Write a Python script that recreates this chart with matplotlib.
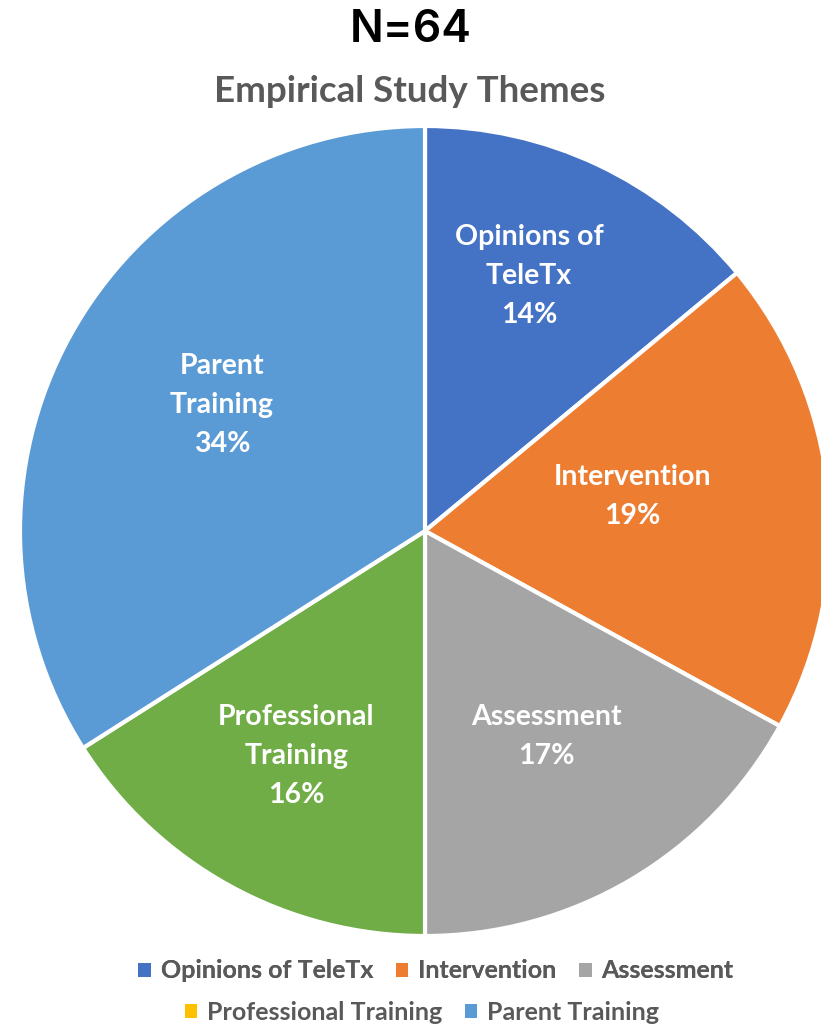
import numpy as np
import matplotlib
matplotlib.use("Agg")
import matplotlib.pyplot as plt
from matplotlib.patches import Patch

themes = ["Opinions of TeleTx", "Intervention", "Assessment",
          "Professional Training", "Parent Training"]
slice_labels = ["Opinions of\nTeleTx", "Intervention", "Assessment",
                "Professional\nTraining", "Parent\nTraining"]
shares = [14, 19, 17, 16, 34]
slice_colors = ["#4472C4", "#ED7D31", "#A5A5A5", "#70AD47", "#5B9BD5"]
legend_colors = ["#4472C4", "#ED7D31", "#A5A5A5", "#FFC000", "#5B9BD5"]
label_radius = [0.68, 0.52, 0.59, 0.64, 0.59]
label_shift = [3, 4, 0, -1, -3]  # degrees, nudges labels off the bisector

W, H = 821, 1028
fig = plt.figure(figsize=(W / 100, H / 100), dpi=100)
ax = fig.add_axes([0, 0, 1, 1])

# pixel geometry of the pie
cx, cy, rpx = 425, 531, 405
wedges, _ = ax.pie(shares, colors=slice_colors, startangle=90, counterclock=False,
                   radius=1.0, wedgeprops=dict(edgecolor="white", linewidth=3))
ax.set_aspect("auto")
ax.set_xlim(-cx / rpx, (W - cx) / rpx)
ax.set_ylim(-(H - cy) / rpx, cy / rpx)
ax.axis("off")

for w, lab, pct, r, d in zip(wedges, slice_labels, shares, label_radius, label_shift):
    mid = np.deg2rad((w.theta1 + w.theta2) / 2 + d)
    ax.text(r * np.cos(mid), r * np.sin(mid), f"{lab}\n{pct}%",
            ha="center", va="center", color="white", fontsize=20.5,
            fontweight="bold", family="Lato", linespacing=1.6)

fig.text(0.5, 1 - 30 / H, "N=64", ha="center", va="center",
         fontsize=32, family="Inter", fontweight="semibold", color="black")
fig.text(410 / W, 1 - 92 / H, "Empirical Study Themes", ha="center", va="center",
         fontsize=26.5, fontweight="bold", family="Lato", color="#595959")

handles = [Patch(facecolor=c, edgecolor="none") for c in legend_colors]
leg_kw = dict(frameon=False, handlelength=0.5, handleheight=0.5, handletextpad=0.4,
              columnspacing=0.9, prop=dict(family="Lato", weight="bold", size=18),
              labelcolor="#595959", loc="center")
leg1 = fig.legend(handles[:3], themes[:3], ncol=3,
                  bbox_to_anchor=(436 / W, 1 - 971 / H), **leg_kw)
fig.add_artist(leg1)
fig.legend(handles[3:], themes[3:], ncol=2,
           bbox_to_anchor=(422 / W, 1 - 1012 / H), **leg_kw)

fig.savefig("out.png", dpi=100, facecolor="white")
